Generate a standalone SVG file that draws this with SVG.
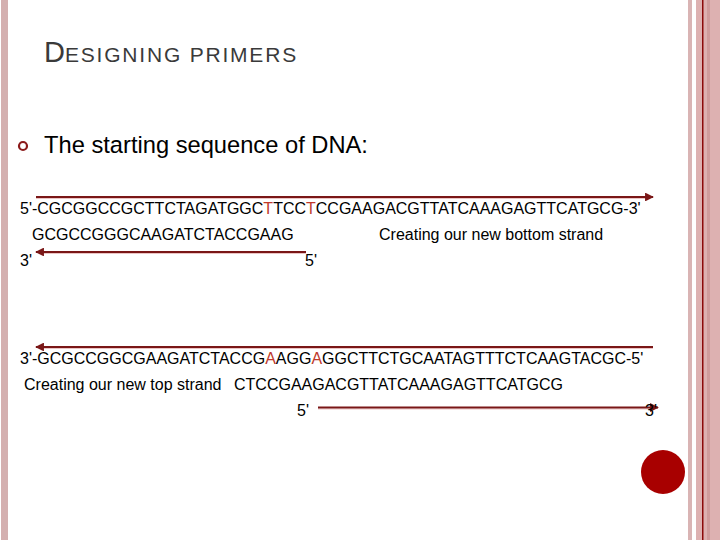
<svg xmlns="http://www.w3.org/2000/svg" width="720" height="540" viewBox="0 0 720 540">
<defs>
<style>
text{font-family:"Liberation Sans",Arial,sans-serif;fill:#000}
.seq{font-size:16px}
.red{fill:#c0392b}
.ttl{fill:#3a3a3a}
.ln{stroke:#7a1717;stroke-width:2.2;fill:none}
.sh{stroke:#ecc4c4;stroke-width:1.2;fill:none}
</style>
<marker id="ah" viewBox="0 0 10 10" refX="9" refY="5" markerWidth="4" markerHeight="4" orient="auto-start-reverse" markerUnits="strokeWidth">
<path d="M0,0 L10,5 L0,10 Z" fill="#7a1717"/>
</marker>
</defs>
<rect width="720" height="540" fill="#fff"/>
<g id="frame">
<rect x="1" y="0" width="7" height="540" fill="#d4b0b0"/>
<rect x="688" y="0" width="4" height="540" fill="#d9b4b4"/>
<rect x="696" y="0" width="24" height="540" fill="#ddb1b1"/>
<rect x="707" y="0" width="3" height="540" fill="#cf9c9c"/>
<rect x="702" y="0" width="1.5" height="540" fill="#8b0a0a"/>
<circle cx="663" cy="472" r="22" fill="#a80000"/>
</g>
<g id="title">
<text class="ttl" x="44" y="62"><tspan font-size="29">D</tspan><tspan font-size="21" letter-spacing="1.8">ESIGNING PRIMERS</tspan></text>
</g>
<g id="bullet">
<circle cx="23" cy="146" r="4" fill="none" stroke="#8b1a1a" stroke-width="2.2"/>
<text x="44" y="153" font-size="23.7">The starting sequence of DNA:</text>
</g>
<g id="connectors">
<line class="sh" x1="36" y1="198.5" x2="650" y2="198.5"/>
<line class="ln" x1="36" y1="197" x2="653" y2="197" marker-end="url(#ah)"/>
<line class="sh" x1="40" y1="253.5" x2="306" y2="253.5"/>
<line class="ln" x1="306" y1="252" x2="36" y2="252" marker-end="url(#ah)"/>
<line class="sh" x1="40" y1="348.5" x2="653" y2="348.5"/>
<line class="ln" x1="653" y1="347" x2="36" y2="347" marker-end="url(#ah)"/>
<line class="sh" x1="318" y1="409" x2="654" y2="409"/>
<line class="ln" x1="318" y1="407.5" x2="658" y2="407.5" marker-end="url(#ah)"/>
</g>
<g id="top-strand">
<text class="seq" x="20" y="214">5'-CGCGGCCGCTTCTAGATGGC<tspan class="red">T</tspan>TCC<tspan class="red">T</tspan>CCGAAGACGTTATCAAAGAGTTCATGCG-3'</text>
</g>
<g id="bottom-primer">
<text class="seq" x="32" y="240">GCGCCGGGCAAGATCTACCGAAG</text>
<text class="seq" x="379" y="240">Creating our new bottom strand</text>
<text class="seq" x="20" y="266">3'</text>
<text class="seq" x="305" y="266">5'</text>
</g>
<g id="bottom-strand">
<text class="seq" x="20" y="364">3'-GCGCCGGCGAAGATCTACCG<tspan class="red">A</tspan>AGG<tspan class="red">A</tspan>GGCTTCTGCAATAGTTTCTCAAGTACGC-5'</text>
</g>
<g id="top-primer">
<text class="seq" x="24" y="390">Creating our new top strand</text>
<text class="seq" x="234" y="390">CTCCGAAGACGTTATCAAAGAGTTCATGCG</text>
<text class="seq" x="297" y="416">5'</text>
<text class="seq" x="645" y="416">3'</text>
</g>
</svg>
